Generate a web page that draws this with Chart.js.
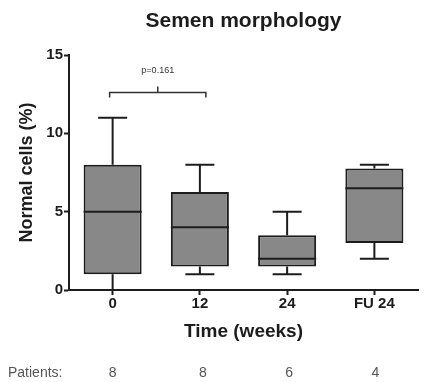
<!DOCTYPE html>
<html>
<head>
<script src="https://cdn.jsdelivr.net/npm/chart.js@4.4.1/dist/chart.umd.min.js"></script>
<style>
  body { margin: 0; background: #fff; }
  #wrap { width: 425px; height: 382px; }
</style>
</head>
<body>
<div id="wrap"><canvas id="myChart" width="425" height="382"></canvas></div>
<script>
// box plot values
var labels = ["0", "12", "24", "FU 24"];
var whiskerLow = [0, 1, 1, 2];
var q1 = [1, 1.5, 1.5, 3];
var median = [5, 4, 2, 6.5];
var q3 = [8, 6.25, 3.5, 7.75];
var whiskerHigh = [11, 8, 5, 8];
var patients = [8, 8, 6, 4];
var yTicks = [0, 5, 10, 15];
var pText = "p=0.161";

var FONT = "Arial, 'Liberation Sans', Helvetica, sans-serif";
var INK = "#1c1c1c";

var boxes = labels.map(function(l, i) { return [q1[i], q3[i]]; });

var boxPlugin = {
  id: "boxExtras",
  afterDatasetsDraw: function(chart) {
    var ctx = chart.ctx, x = chart.scales.x, y = chart.scales.y;
    var meta = chart.getDatasetMeta(0);
    ctx.save();
    ctx.strokeStyle = INK;
    ctx.lineWidth = 2;
    meta.data.forEach(function(bar, i) {
      var cx = bar.x, half = bar.width / 2, cap = bar.width / 4;
      var yLo = y.getPixelForValue(whiskerLow[i]), yHi = y.getPixelForValue(whiskerHigh[i]);
      var yQ1 = y.getPixelForValue(q1[i]), yQ3 = y.getPixelForValue(q3[i]);
      var yMed = y.getPixelForValue(median[i]);
      ctx.beginPath();
      ctx.moveTo(cx, yQ3); ctx.lineTo(cx, yHi);
      ctx.moveTo(cx - cap, yHi); ctx.lineTo(cx + cap, yHi);
      ctx.moveTo(cx, yQ1); ctx.lineTo(cx, yLo);
      ctx.moveTo(cx - cap, yLo); ctx.lineTo(cx + cap, yLo);
      ctx.moveTo(cx - half, yMed); ctx.lineTo(cx + half, yMed);
      ctx.stroke();
    });

    // significance bracket between week 0 and week 12
    var x0 = x.getPixelForValue(0) - 3, x1 = x.getPixelForValue(1) + 6;
    var yb = y.getPixelForValue(12.6);
    ctx.lineWidth = 1.5;
    ctx.strokeStyle = "#333";
    ctx.beginPath();
    ctx.moveTo(x0, yb + 5); ctx.lineTo(x0, yb); ctx.lineTo(x1, yb); ctx.lineTo(x1, yb + 5);
    ctx.moveTo((x0 + x1) / 2, yb); ctx.lineTo((x0 + x1) / 2, yb - 6);
    ctx.stroke();
    ctx.fillStyle = "#333";
    ctx.font = "9px " + FONT;
    ctx.textAlign = "center";
    ctx.textBaseline = "middle";
    ctx.fillText(pText, (x0 + x1) / 2, yb - 22);

    // chart title
    ctx.fillStyle = INK;
    ctx.font = "bold 21px " + FONT;
    ctx.fillText("Semen morphology", (chart.chartArea.left + chart.chartArea.right) / 2, 21);

    // patients row
    ctx.fillStyle = "#555";
    ctx.font = "14px " + FONT;
    ctx.textAlign = "left";
    ctx.fillText("Patients:", 8, 373);
    ctx.textAlign = "center";
    patients.forEach(function(n, i) {
      ctx.fillText(String(n), x.getPixelForValue(i) + [0, 3, 2, 1][i], 373);
    });
    ctx.restore();
  }
};

new Chart(document.getElementById("myChart").getContext("2d"), {
  type: "bar",
  data: {
    labels: labels,
    datasets: [{
      data: boxes,
      backgroundColor: "#888888",
      borderColor: INK,
      borderWidth: 2,
      borderSkipped: false,
      categoryPercentage: 1,
      barPercentage: 0.665
    }]
  },
  options: {
    responsive: false,
    animation: false,
    layout: { padding: { top: 55, right: 7, left: 0, bottom: 0 } },
    plugins: { legend: { display: false }, tooltip: { enabled: false }, title: { display: false } },
    scales: {
      x: {
        offset: true,
        afterFit: function(s) { s.height = 92; },
        grid: { display: true, offset: false, drawOnChartArea: false, drawTicks: true, tickLength: 5, tickWidth: 2, tickColor: INK },
        border: { display: true, color: INK, width: 2 },
        ticks: { color: INK, padding: 0, font: { family: FONT, size: 15, weight: "bold" } },
        title: { display: true, text: "Time (weeks)", color: INK, padding: { top: 0, bottom: 39 }, font: { family: FONT, size: 19, weight: "bold" } }
      },
      y: {
        min: 0,
        max: 15,
        afterFit: function(s) { s.width = 69; },
        afterBuildTicks: function(s) { s.ticks = yTicks.map(function(v) { return { value: v }; }); },
        grid: { display: true, drawOnChartArea: false, drawTicks: true, tickLength: 5, tickWidth: 2, tickColor: INK },
        border: { display: true, color: INK, width: 2 },
        ticks: { color: INK, padding: 1, font: { family: FONT, size: 15, weight: "bold" } },
        title: { display: true, text: "Normal cells (%)", color: INK, padding: { top: 16, bottom: 0 }, font: { family: FONT, size: 18, weight: "bold" } }
      }
    }
  },
  plugins: [boxPlugin]
});
</script>
</body>
</html>
